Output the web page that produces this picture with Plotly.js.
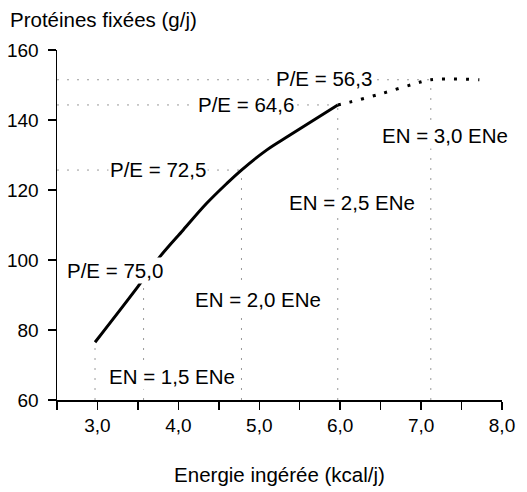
<!DOCTYPE html>
<html>
<head>
<meta charset="utf-8">
<script src="https://cdn.plot.ly/plotly-3.0.1.min.js"></script>
<style>html,body{margin:0;padding:0;background:#fff;}#chart{width:527px;height:492px;}</style>
</head>
<body>
<div id="chart"></div>
<script>
// Main curve (solid)
const curveX = [2.97, 3.50, 3.77, 4.06, 4.35, 4.60, 4.78, 5.09, 5.38, 5.97];
const curveY = [76.5, 92.4, 100.9, 108.6, 116.2, 121.9, 125.7, 131.4, 135.7, 144.3];
// Extrapolated part (dotted)
const extX = [5.97, 6.12, 6.52, 6.90, 7.12, 7.72];
const extY = [144.3, 145.1, 147.6, 150.2, 151.5, 151.5];
// Vertical reference lines (x position, top y)
const vLineX = [2.97, 3.57, 4.78, 5.97, 7.12];
const vLineTop = [76.5, 94.5, 125.7, 144.3, 151.5];
// Horizontal reference lines (y position, right end x)
const hLineY = [151.5, 144.3, 125.7];
const hLineEnd = [7.12, 5.97, 4.78];
// Labels
const peLabels = ["P/E = 56,3", "P/E = 64,6", "P/E = 72,5", "P/E = 75,0"];
const peX = [5.80, 4.83, 3.75, 3.22];
const peY = [152.0, 144.5, 125.9, 97.0];
const enLabels = ["EN = 1,5 ENe", "EN = 2,0 ENe", "EN = 2,5 ENe", "EN = 3,0 ENe"];
const enX = [3.92, 4.99, 6.14, 7.30];
const enY = [66.6, 88.6, 116.3, 135.7];
// Ticks
const xTickVals = [2.5, 3.0, 3.5, 4.0, 4.5, 5.0, 5.5, 6.0, 6.5, 7.0, 7.5, 8.0];
const xTickText = ["", "3,0", "", "4,0", "", "5,0", "", "6,0", "", "7,0", "", "8,0"];
const yTickVals = [60, 80, 100, 120, 140, 160];

const FONT = "Liberation Sans, Arial, Helvetica, sans-serif";
const LBL = 20.5;
const refLine = {color: "#9a9a9a", width: 1, dash: "2px,8px"};
const traces = [];
vLineX.forEach((x, i) => {
  traces.push({x: [x, x], y: [60, vLineTop[i]], mode: "lines", line: refLine, hoverinfo: "skip"});
});
hLineY.forEach((y, i) => {
  traces.push({x: [2.5, hLineEnd[i]], y: [y, y], mode: "lines", line: refLine, hoverinfo: "skip"});
});
traces.push({x: curveX, y: curveY, mode: "lines", line: {color: "#000", width: 3, shape: "spline", smoothing: 1}});
traces.push({x: extX, y: extY, mode: "lines", line: {color: "#000", width: 3, dash: "3px,9px", shape: "spline"}});

const annotations = [];
peLabels.forEach((t, i) => annotations.push({x: peX[i], y: peY[i], text: t, showarrow: false, bgcolor: "#fff", borderpad: 1, font: {family: FONT, size: LBL, color: "#000"}}));
enLabels.forEach((t, i) => annotations.push({x: enX[i], y: enY[i], text: t, showarrow: false, bgcolor: "#fff", borderpad: 1, font: {family: FONT, size: LBL, color: "#000"}}));

const layout = {
  width: 527, height: 492,
  margin: {l: 57, r: 25, t: 50, b: 92},
  paper_bgcolor: "#fff", plot_bgcolor: "#fff",
  showlegend: false,
  font: {family: FONT, size: 19, color: "#000"},
  title: {text: "Protéines fixées (g/j)", xref: "container", yref: "container", x: 10/527, xanchor: "left", y: 1 - 20/492, yanchor: "middle", font: {family: FONT, size: LBL, color: "#000"}},
  xaxis: {
    range: [2.5, 8.0], showgrid: false, zeroline: false, showline: true, linecolor: "#000", linewidth: 1.5,
    ticks: "outside", ticklen: 8, tickwidth: 1.5, tickcolor: "#000",
    tickmode: "array", tickvals: xTickVals, ticktext: xTickText, ticklabelstandoff: 0,
    tickfont: {family: FONT, size: 19, color: "#000"},
    title: {text: "Energie ingérée (kcal/j)", standoff: 32, font: {family: FONT, size: LBL, color: "#000"}}
  },
  yaxis: {
    range: [60, 160], showgrid: false, zeroline: false, showline: true, linecolor: "#000", linewidth: 1.5,
    ticks: "outside", ticklen: 8, tickwidth: 1.5, tickcolor: "#000",
    tickmode: "array", tickvals: yTickVals, ticktext: yTickVals.map(String), ticklabelstandoff: 5,
    tickfont: {family: FONT, size: 19, color: "#000"}
  },
  annotations: annotations
};
Plotly.newPlot("chart", traces, layout, {staticPlot: true, displayModeBar: false});
</script>
</body>
</html>
